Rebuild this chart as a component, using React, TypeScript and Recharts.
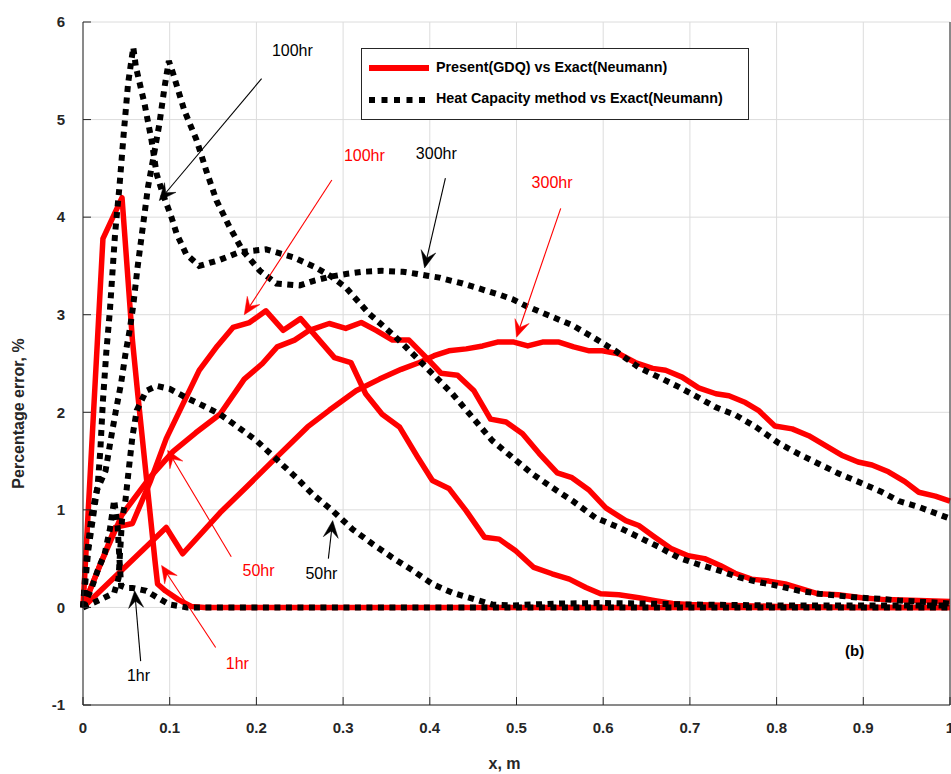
import React from 'react'
import { LineChart, Line, XAxis, YAxis, CartesianGrid, ReferenceLine, ReferenceDot } from 'recharts'

type Pt = [number, number]

const xTicks = [0, 0.1, 0.2, 0.3, 0.4, 0.5, 0.6, 0.7, 0.8, 0.9, 1]
const yTicks = [-1, 0, 1, 2, 3, 4, 5, 6]

// Present (GDQ) vs Exact (Neumann)
const gdq1hr: Pt[] = [
  [0, 0], [0.023, 3.78], [0.045, 4.2], [0.057, 2.74], [0.063, 2.2], [0.083, 0.48], [0.086, 0.24],
  [0.095, 0.17], [0.11, 0.08], [0.125, 0.01], [0.14, 0], [0.3, 0], [0.6, 0], [1, 0],
]
const gdq50hr: Pt[] = [
  [0, 0], [0.018, 0.4], [0.045, 0.95], [0.077, 1.33], [0.104, 1.6], [0.13, 1.79], [0.158, 1.98],
  [0.186, 2.34], [0.207, 2.5], [0.224, 2.67], [0.244, 2.74], [0.261, 2.84], [0.284, 2.91], [0.303, 2.86],
  [0.321, 2.92], [0.338, 2.84], [0.357, 2.74], [0.376, 2.74], [0.396, 2.56], [0.413, 2.4], [0.432, 2.38],
  [0.451, 2.22], [0.47, 1.93], [0.488, 1.9], [0.507, 1.78], [0.526, 1.58], [0.547, 1.38], [0.564, 1.33],
  [0.584, 1.2], [0.603, 1.02], [0.626, 0.89], [0.641, 0.84], [0.658, 0.73], [0.679, 0.6], [0.698, 0.53],
  [0.717, 0.5], [0.735, 0.43], [0.752, 0.35], [0.771, 0.29], [0.791, 0.27], [0.81, 0.24], [0.829, 0.19],
  [0.848, 0.14], [0.871, 0.13], [0.898, 0.1], [0.925, 0.08], [0.964, 0.07], [1, 0.06],
]
const gdq100hr: Pt[] = [
  [0, 0], [0.037, 0.82], [0.057, 0.86], [0.078, 1.3], [0.096, 1.73], [0.134, 2.43], [0.155, 2.68],
  [0.173, 2.87], [0.192, 2.92], [0.211, 3.04], [0.231, 2.84], [0.251, 2.96], [0.29, 2.56], [0.309, 2.51],
  [0.326, 2.19], [0.345, 1.98], [0.365, 1.85], [0.386, 1.54], [0.403, 1.3], [0.422, 1.22], [0.442, 0.99],
  [0.463, 0.72], [0.48, 0.7], [0.499, 0.58], [0.52, 0.41], [0.541, 0.345], [0.561, 0.29], [0.58, 0.205],
  [0.597, 0.14], [0.618, 0.13], [0.641, 0.1], [0.66, 0.07], [0.68, 0.04], [0.7, 0.03], [0.75, 0.02],
  [0.8, 0.01], [0.9, 0], [1, 0],
]
const gdq300hr: Pt[] = [
  [0, 0], [0.096, 0.82], [0.115, 0.55], [0.158, 0.97], [0.188, 1.23], [0.221, 1.52], [0.259, 1.85],
  [0.284, 2.02], [0.315, 2.22], [0.342, 2.34], [0.367, 2.44], [0.388, 2.51], [0.405, 2.58], [0.422, 2.63],
  [0.442, 2.65], [0.461, 2.68], [0.478, 2.72], [0.497, 2.72], [0.513, 2.68], [0.53, 2.72], [0.549, 2.72],
  [0.566, 2.67], [0.584, 2.63], [0.599, 2.63], [0.618, 2.6], [0.637, 2.51], [0.657, 2.45], [0.672, 2.43],
  [0.691, 2.36], [0.71, 2.25], [0.73, 2.19], [0.745, 2.17], [0.764, 2.1], [0.779, 2.02], [0.798, 1.86],
  [0.818, 1.83], [0.837, 1.76], [0.856, 1.66], [0.875, 1.56], [0.894, 1.49], [0.91, 1.46], [0.929, 1.39],
  [0.948, 1.29], [0.964, 1.18], [0.983, 1.14], [1, 1.09],
]

// Heat Capacity method vs Exact (Neumann)
const hc1hr: Pt[] = [
  [0, 0], [0.01, 0.2], [0.017, 0.38], [0.025, 0.55], [0.031, 0.8], [0.036, 1.1], [0.04, 0.82],
  [0.042, 0.5], [0.044, 0.22], [0.05, 0.2], [0.057, 0.2], [0.073, 0.17], [0.086, 0.1], [0.1, 0.03],
  [0.12, 0], [0.5, 0], [1, 0],
]
const hc50hr: Pt[] = [
  [0, 0], [0.02, 0.08], [0.036, 0.15], [0.041, 0.3], [0.043, 0.6], [0.045, 0.9], [0.049, 1.1],
  [0.052, 1.35], [0.057, 1.75], [0.062, 2.02], [0.073, 2.22], [0.085, 2.27], [0.1, 2.24], [0.119, 2.15],
  [0.138, 2.07], [0.158, 1.98], [0.177, 1.86], [0.2, 1.71], [0.223, 1.52], [0.246, 1.33], [0.265, 1.16],
  [0.288, 0.99], [0.311, 0.8], [0.334, 0.65], [0.357, 0.51], [0.38, 0.38], [0.403, 0.24], [0.426, 0.15],
  [0.449, 0.09], [0.472, 0.03], [0.495, 0.02], [0.518, 0.03], [0.55, 0.04], [0.6, 0.045], [0.65, 0.04],
  [0.7, 0.03], [0.8, 0.02], [0.9, 0.02], [1, 0.02],
]
const hc100hr: Pt[] = [
  [0, 0], [0.006, 0.58], [0.012, 0.95], [0.017, 1.26], [0.02, 1.61], [0.023, 2.12], [0.027, 2.63],
  [0.031, 3.04], [0.037, 3.83], [0.042, 4.31], [0.047, 4.86], [0.052, 5.37], [0.058, 5.74], [0.061, 5.54],
  [0.071, 5.16], [0.079, 4.79], [0.085, 4.44], [0.092, 4.24], [0.102, 4.0], [0.108, 3.83], [0.119, 3.62],
  [0.134, 3.5], [0.157, 3.56], [0.18, 3.64], [0.211, 3.67], [0.242, 3.59], [0.267, 3.49], [0.285, 3.4],
  [0.303, 3.28], [0.33, 3.01], [0.357, 2.8], [0.369, 2.7], [0.388, 2.53], [0.407, 2.36], [0.426, 2.19],
  [0.449, 1.95], [0.472, 1.71], [0.495, 1.54], [0.518, 1.37], [0.541, 1.23], [0.565, 1.09], [0.591, 0.92],
  [0.618, 0.82], [0.641, 0.72], [0.664, 0.62], [0.687, 0.51], [0.71, 0.44], [0.733, 0.38], [0.756, 0.31],
  [0.779, 0.26], [0.802, 0.22], [0.826, 0.17], [0.849, 0.14], [0.872, 0.12], [0.895, 0.1], [0.918, 0.09],
  [0.941, 0.07], [0.964, 0.06], [1, 0.04],
]
const hc300hr: Pt[] = [
  [0, 0], [0.004, 0.5], [0.01, 0.95], [0.016, 1.2], [0.022, 1.32], [0.026, 1.4], [0.032, 1.72],
  [0.038, 2.02], [0.044, 2.3], [0.049, 2.6], [0.054, 2.85], [0.058, 3.1], [0.063, 3.49], [0.069, 3.9],
  [0.075, 4.31], [0.082, 4.65], [0.088, 4.95], [0.094, 5.33], [0.099, 5.6], [0.104, 5.47], [0.117, 5.09],
  [0.131, 4.79], [0.142, 4.48], [0.154, 4.17], [0.169, 3.9], [0.184, 3.66], [0.204, 3.45], [0.223, 3.32],
  [0.25, 3.3], [0.267, 3.35], [0.285, 3.39], [0.305, 3.42], [0.323, 3.44], [0.345, 3.45], [0.369, 3.44],
  [0.384, 3.42], [0.397, 3.4], [0.411, 3.38], [0.424, 3.35], [0.438, 3.32], [0.453, 3.28], [0.467, 3.24],
  [0.482, 3.2], [0.495, 3.16], [0.511, 3.09], [0.538, 2.99], [0.565, 2.89], [0.588, 2.77], [0.614, 2.63],
  [0.641, 2.46], [0.664, 2.36], [0.687, 2.26], [0.71, 2.15], [0.73, 2.05], [0.753, 1.97], [0.776, 1.85],
  [0.803, 1.68], [0.826, 1.57], [0.849, 1.47], [0.872, 1.37], [0.899, 1.27], [0.922, 1.18], [0.941, 1.09],
  [0.964, 1.03], [1, 0.91],
]

// annotation arrows: [tailX, tailY, tipX, tipY]
const blackArrows: [number, number, number, number][] = [
  [0.206, 5.42, 0.088, 4.17],
  [0.418, 4.4, 0.394, 3.48],
  [0.283, 0.5, 0.288, 0.89],
  [0.0665, -0.55, 0.0596, 0.17],
]
const redArrows: [number, number, number, number][] = [
  [0.287, 4.38, 0.186, 3.0],
  [0.551, 4.09, 0.5, 2.77],
  [0.171, 0.52, 0.0976, 1.61],
  [0.153, -0.41, 0.0906, 0.43],
]
const blackNotes: [string, number, number][] = [
  ['100hr', 0.2415, 5.71],
  ['300hr', 0.4075, 4.65],
  ['50hr', 0.275, 0.345],
  ['1hr', 0.064, -0.7],
]
const redNotes: [string, number, number][] = [
  ['100hr', 0.3245, 4.63],
  ['300hr', 0.541, 4.35],
  ['50hr', 0.2025, 0.376],
  ['1hr', 0.178, -0.57],
]

const toRows = (pts: Pt[]) => pts.map(([x, y]) => ({ x, y }))

const FONT = '"Liberation Sans", Arial, Helvetica, sans-serif'
const AXIS = '#262626'
const RED = '#ff0000'

function Arrow(props: any) {
  const { x1, y1, x2, y2, stroke } = props
  if ([x1, y1, x2, y2].some((v) => typeof v !== 'number' || isNaN(v))) return null
  const dx = x2 - x1
  const dy = y2 - y1
  const len = Math.hypot(dx, dy) || 1
  const ux = dx / len
  const uy = dy / len
  const L = 17
  const W = 7.5
  const bx = x2 - ux * L
  const by = y2 - uy * L
  const mx = x2 - ux * L * 0.6
  const my = y2 - uy * L * 0.6
  const pts = [
    [x2, y2],
    [bx - uy * W, by + ux * W],
    [mx, my],
    [bx + uy * W, by - ux * W],
  ]
  return (
    <g>
      <line x1={x1} y1={y1} x2={mx} y2={my} stroke={stroke} strokeWidth={1.1} />
      <polygon points={pts.map((p) => p.join(',')).join(' ')} fill={stroke} stroke={stroke} strokeWidth={0.5} />
    </g>
  )
}

function LegendBox() {
  return (
    <svg width={389} height={73} style={{ display: 'block' }}>
      <rect x={0.5} y={0.5} width={387} height={71} fill="#fff" stroke={AXIS} strokeWidth={1} />
      <line x1={8} y1={20} x2={68} y2={20} stroke={RED} strokeWidth={6} />
      <text x={75} y={19} dominantBaseline="central" fontFamily={FONT} fontSize={14.3} fontWeight="bold" fill="#000">
        Present(GDQ) vs Exact(Neumann)
      </text>
      <line x1={8} y1={52} x2={68} y2={52} stroke="#000" strokeWidth={6} strokeDasharray="6 6.5" />
      <text x={75} y={50} dominantBaseline="central" fontFamily={FONT} fontSize={14.3} fontWeight="bold" fill="#000">
        Heat Capacity method vs Exact(Neumann)
      </text>
    </svg>
  )
}

const tickStyle = { fontSize: 15, fontWeight: 'bold' as const, fill: AXIS, fontFamily: FONT }

export default function App() {
  const redSeries = [gdq1hr, gdq50hr, gdq100hr, gdq300hr]
  const blackSeries = [hc1hr, hc50hr, hc100hr, hc300hr]

  return (
    <div style={{ position: 'absolute', left: 0, top: 0, width: 951, height: 774, background: '#fff', fontFamily: FONT }}>
      <LineChart width={951} height={774} margin={{ top: 22, right: 0, bottom: 0, left: 0 }}>
        <CartesianGrid stroke="#dcdcdc" strokeWidth={1} />
        <XAxis
          type="number"
          dataKey="x"
          domain={[0, 1]}
          ticks={xTicks}
          interval={0}
          height={69}
          stroke={AXIS}
          tickSize={-8}
          tickMargin={25}
          tick={tickStyle}
          tickFormatter={(v: number) => String(v)}
          label={{
            content: (p: any) => {
              const vb = p.viewBox
              return (
                <text x={vb.x + vb.width / 2 - 12} y={vb.y + 58} textAnchor="middle" dominantBaseline="central" fontFamily={FONT} fontSize={16} fontWeight="bold" fill={AXIS}>
                  x, m
                </text>
              )
            },
          }}
        />
        <XAxis xAxisId="top" orientation="top" type="number" domain={[0, 1]} ticks={xTicks} interval={0} height={0} stroke={AXIS} tickSize={-8} tick={false} />
        <YAxis
          type="number"
          domain={[-1, 6]}
          ticks={yTicks}
          interval={0}
          width={83}
          stroke={AXIS}
          tickSize={-8}
          tickMargin={26}
          tick={tickStyle}
          label={{
            content: (p: any) => {
              const vb = p.viewBox
              const cx = vb.x + 18
              const cy = vb.y + vb.height / 2 + 50
              return (
                <text x={cx} y={cy} transform={`rotate(-90 ${cx} ${cy})`} textAnchor="middle" dominantBaseline="central" fontFamily={FONT} fontSize={16} fontWeight="bold" fill={AXIS}>
                  Percentage error, %
                </text>
              )
            },
          }}
        />
        <YAxis yAxisId="right" orientation="right" type="number" domain={[-1, 6]} ticks={yTicks} interval={0} width={1} stroke={AXIS} tickSize={-8} tick={false} />

        {redSeries.map((s, i) => (
          <Line key={`r${i}`} data={toRows(s)} dataKey="y" type="linear" stroke={RED} strokeWidth={5.5} strokeLinejoin="round" dot={false} activeDot={false} isAnimationActive={false} />
        ))}
        {blackSeries.map((s, i) => (
          <Line key={`b${i}`} data={toRows(s)} dataKey="y" type="linear" stroke="#000" strokeWidth={6} strokeDasharray="6 5.5" dot={false} activeDot={false} isAnimationActive={false} />
        ))}

        {blackArrows.map(([x1, y1, x2, y2], i) => (
          <ReferenceLine key={`ba${i}`} segment={[{ x: x1, y: y1 }, { x: x2, y: y2 }]} stroke="#000" shape={(p: any) => <Arrow {...p} stroke="#000" />} />
        ))}
        {redArrows.map(([x1, y1, x2, y2], i) => (
          <ReferenceLine key={`ra${i}`} segment={[{ x: x1, y: y1 }, { x: x2, y: y2 }]} stroke={RED} shape={(p: any) => <Arrow {...p} stroke={RED} />} />
        ))}
        {blackNotes.map(([t, x, y], i) => (
          <ReferenceDot key={`bn${i}`} x={x} y={y} r={0} shape={(p: any) => (
            <text x={p.cx} y={p.cy} textAnchor="middle" dominantBaseline="central" fontFamily={FONT} fontSize={16} fill="#000">{t}</text>
          )} />
        ))}
        {redNotes.map(([t, x, y], i) => (
          <ReferenceDot key={`rn${i}`} x={x} y={y} r={0} shape={(p: any) => (
            <text x={p.cx} y={p.cy} textAnchor="middle" dominantBaseline="central" fontFamily={FONT} fontSize={16} fill={RED}>{t}</text>
          )} />
        ))}
        <ReferenceDot x={0.89} y={-0.44} r={0} shape={(p: any) => (
          <text x={p.cx} y={p.cy} textAnchor="middle" dominantBaseline="central" fontFamily={FONT} fontSize={15} fontWeight="bold" fill="#000">(b)</text>
        )} />
      </LineChart>
      <div style={{ position: 'absolute', left: 361, top: 48 }}>
        <LegendBox />
      </div>
    </div>
  )
}
